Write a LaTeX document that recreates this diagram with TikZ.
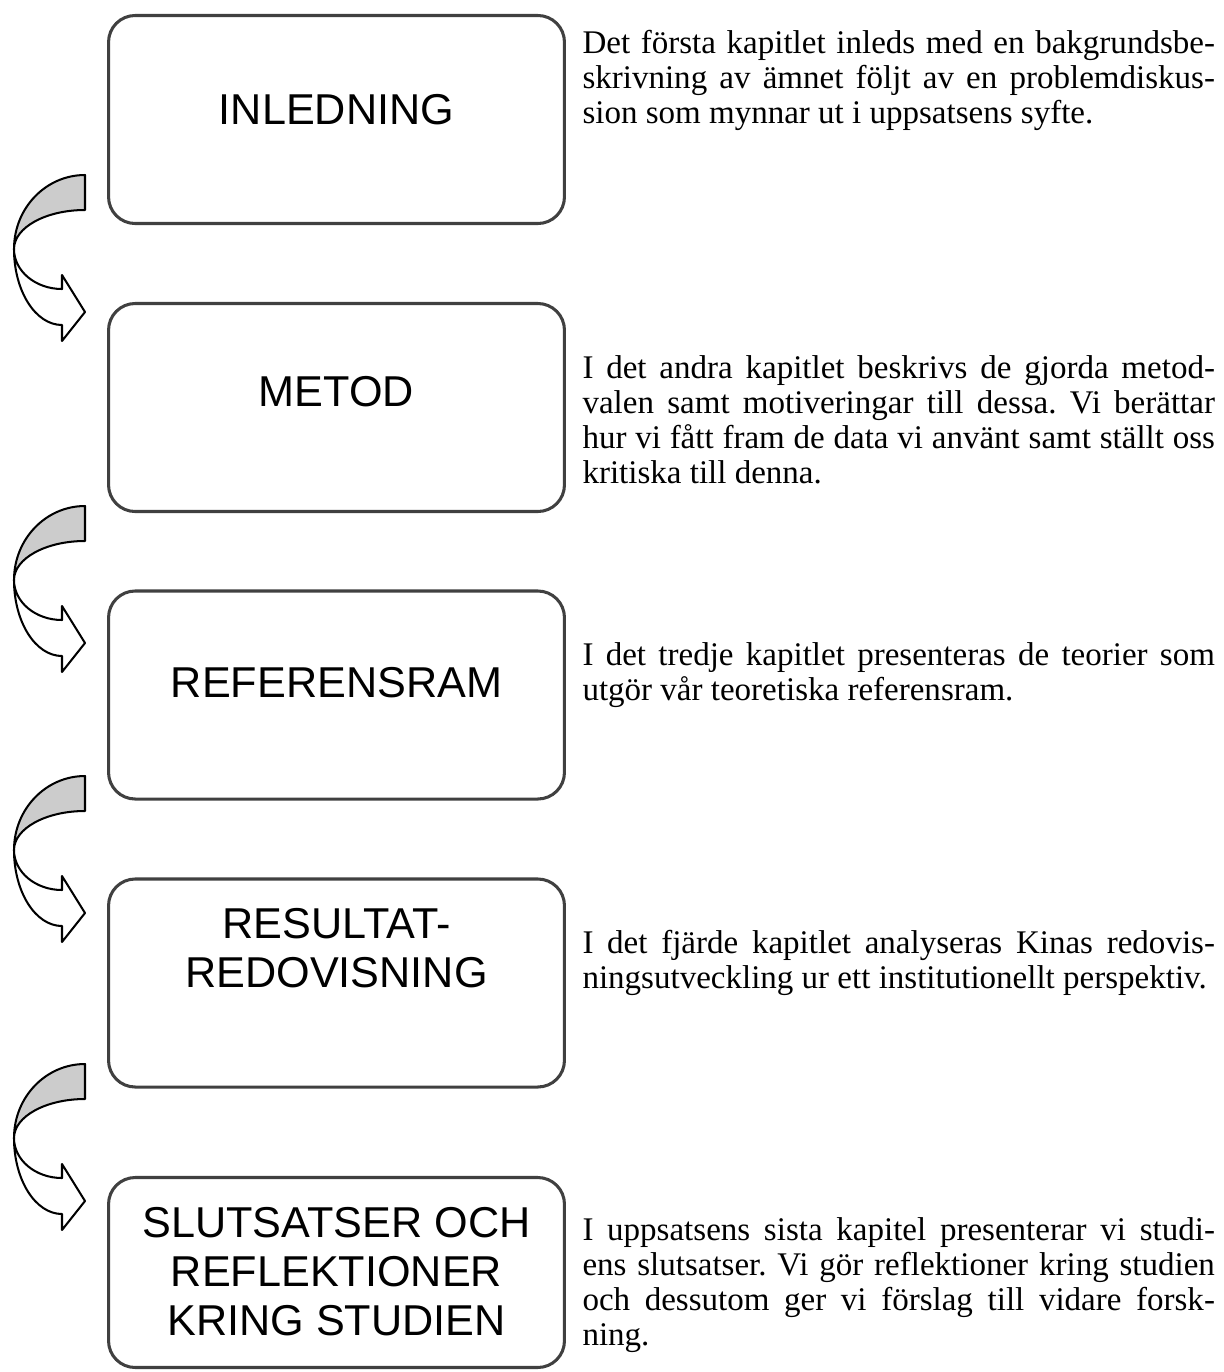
\documentclass[tikz,border=0pt]{standalone}
\usepackage{fontspec}
\setmainfont{Liberation Serif}
\newfontfamily\boxfont{Liberation Sans}
\frenchspacing

\begin{document}
\begin{tikzpicture}[x=0.3937pt, y=-0.3937pt,
    box/.style={draw=black!75, line width=1.2pt, rounded corners=10.5pt, minimum width=179.5pt, minimum height=81.9pt},
    boxtext/.style={font=\boxfont\fontsize{17pt}{19.3pt}\selectfont, align=center, inner sep=0pt},
    desc/.style={anchor=base west, inner sep=0pt, text width=249pt, align=justify, font=\fontsize{13pt}{13.8pt}\selectfont},
    bendarrow/.pic={
        \filldraw[fill=white, line width=0.8pt, line join=round] (0,0) .. controls (0,42) and (21.5,76) .. (48,76) -- (48,92) -- (71,63) -- (48,26) -- (48,40) .. controls (21.5,40) and (0,22.1) .. (0,0) -- cycle;
        \filldraw[fill=gray!40, line width=0.8pt, line join=round] (71,-74) .. controls (31.8,-74) and (0,-40.9) .. (0,0) .. controls (0,-21.5) and (31.8,-39) .. (71,-39) -- cycle;
    }]
    \useasboundingbox (0,0) rectangle (1223,1372);

    \node[box] (inl) at (336.5,119.5) {};
    \node[box] (met) at (336.5,407.5) {};
    \node[box] (ref) at (336.5,695) {};
    \node[box] (res) at (336.5,983) {};
    \node[box, minimum height=74.8pt] (slut) at (336.5,1272.5) {};

    \node[boxtext] (inltxt) at (336.5,110) {INLEDNING};
    \node[boxtext] (mettxt) at (336.5,392) {METOD};
    \node[boxtext] (reftxt) at (336.5,683) {REFERENSRAM};
    \node[boxtext] (restxt) at (336.5,948) {RESULTAT-\\REDOVISNING};
    \node[boxtext] (sluttxt) at (336.5,1272) {SLUTSATSER OCH\\REFLEKTIONER\\KRING STUDIEN};

    \coordinate (b1) at (14,249);
    \coordinate (b2) at (14,580);
    \coordinate (b3) at (14,850);
    \coordinate (b4) at (14,1138);
    \pic at (b1) {bendarrow};
    \pic at (b2) {bendarrow};
    \pic at (b3) {bendarrow};
    \pic at (b4) {bendarrow};

    \node[desc] (inldesc) at (582,53) {Det första kapitlet inleds med en bakgrundsbe-\linebreak skrivning av ämnet följt av en problemdiskus-\linebreak sion som mynnar ut i uppsatsens syfte.};
    \node[desc] (metdesc) at (582,378) {I det andra kapitlet beskrivs de gjorda metod-\linebreak valen samt motiveringar till dessa. Vi berättar\linebreak hur vi fått fram de data vi använt samt ställt oss\linebreak kritiska till denna.};
    \node[desc] (refdesc) at (582,665) {I det tredje kapitlet presenteras de teorier som\linebreak utgör vår teoretiska referensram.};
    \node[desc] (resdesc) at (582,953) {I det fjärde kapitlet analyseras Kinas redovis-\linebreak ningsutveckling ur ett institutionellt perspektiv.};
    \node[desc] (slutdesc) at (582,1240) {I uppsatsens sista kapitel presenterar vi studi-\linebreak ens slutsatser. Vi gör reflektioner kring studien\linebreak och dessutom ger vi förslag till vidare forsk-\linebreak ning.};
\end{tikzpicture}
\end{document}
